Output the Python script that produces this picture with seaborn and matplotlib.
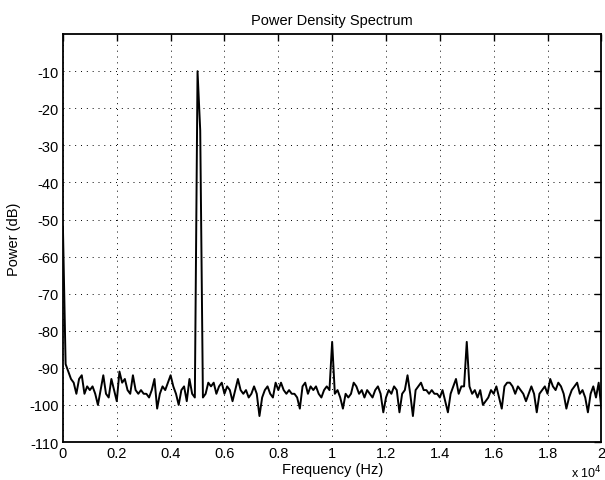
import matplotlib
matplotlib.use("Agg")
import matplotlib.pyplot as plt
import seaborn as sns
import numpy as np
import pandas as pd

# Frequency grid (Hz) and power (dB)
step_hz = 100
power_0_4900 = [-52, -89, -91, -93, -94, -97, -93, -92, -97, -95,
                -96, -95, -97, -100, -96, -92, -97, -98, -93, -96,
                -99, -91, -94, -93, -96, -97, -92, -96, -97, -96,
                -97, -97, -98, -96, -93, -101, -97, -95, -96, -94,
                -92, -95, -97, -100, -96, -95, -99, -93, -97, -98]
power_5000_9900 = [-10, -26, -98, -97, -94, -95, -94, -97, -95, -94,
                   -97, -95, -96, -99, -96, -93, -96, -97, -96, -98,
                   -97, -95, -97, -103, -98, -96, -95, -97, -98, -94,
                   -96, -94, -96, -97, -96, -97, -97, -98, -101, -95,
                   -94, -97, -95, -96, -95, -97, -98, -96, -95, -96]
power_10000_14900 = [-83, -97, -96, -98, -101, -97, -98, -97, -94, -95,
                     -97, -96, -98, -96, -97, -98, -96, -95, -97, -102,
                     -98, -96, -97, -95, -96, -102, -97, -96, -92, -97,
                     -103, -96, -95, -94, -96, -96, -97, -96, -97, -97,
                     -98, -96, -99, -102, -97, -95, -93, -97, -95, -95]
power_15000_20000 = [-83, -95, -97, -96, -98, -96, -100, -99, -98, -96,
                     -97, -95, -98, -101, -95, -94, -94, -95, -97, -95,
                     -96, -97, -99, -97, -95, -97, -102, -97, -96, -95,
                     -97, -93, -95, -96, -94, -95, -97, -101, -98, -96,
                     -95, -94, -97, -96, -98, -102, -97, -95, -98, -94,
                     -101]

power_db = power_0_4900 + power_5000_9900 + power_10000_14900 + power_15000_20000
freq_hz = [i * step_hz for i in range(len(power_db))]

x_ticks = [0, 0.2, 0.4, 0.6, 0.8, 1.0, 1.2, 1.4, 1.6, 1.8, 2.0]
x_tick_labels = ["0", "0.2", "0.4", "0.6", "0.8", "1", "1.2", "1.4", "1.6", "1.8", "2"]
y_ticks = [-110, -100, -90, -80, -70, -60, -50, -40, -30, -20, -10]
y_tick_labels = [str(v) for v in y_ticks]

sns.set_theme(style="white")
plt.rcParams["font.family"] = ["Liberation Sans", "DejaVu Sans"]

df = pd.DataFrame({"f": np.array(freq_hz) / 1e4, "p": power_db})

fig = plt.figure(figsize=(6.05, 4.81), dpi=100)
ax = fig.add_axes([0.104, 0.079, 0.8900, 0.848])

sns.lineplot(data=df, x="f", y="p", color="black", linewidth=1.4,
             estimator=None, sort=False, ax=ax)

ax.set_xlim(0, 2)
ax.set_ylim(-110, 0)
ax.set_xticks(x_ticks)
ax.set_xticklabels(x_tick_labels)
ax.set_yticks(y_ticks)
ax.set_yticklabels(y_tick_labels)

ax.grid(True, color="black", linestyle=(0, (1, 5)), linewidth=0.7)
for s in ax.spines.values():
    s.set_color("black")
    s.set_linewidth(1.3)
ax.tick_params(axis="both", direction="in", length=5, width=1,
               top=True, right=True, labelsize=10.5, colors="black", pad=3)

ax.set_title("Power Density Spectrum", fontsize=10.5, pad=7, color="black")
ax.set_xlabel("Frequency (Hz)", fontsize=10.5, labelpad=1, color="black")
ax.set_ylabel("Power (dB)", fontsize=10.5, labelpad=6, color="black")

fig.text(0.995, 0.006, r"x 10$^4$", fontsize=9, color="black", ha="right")

fig.savefig("out.png", dpi=100, facecolor="white")
